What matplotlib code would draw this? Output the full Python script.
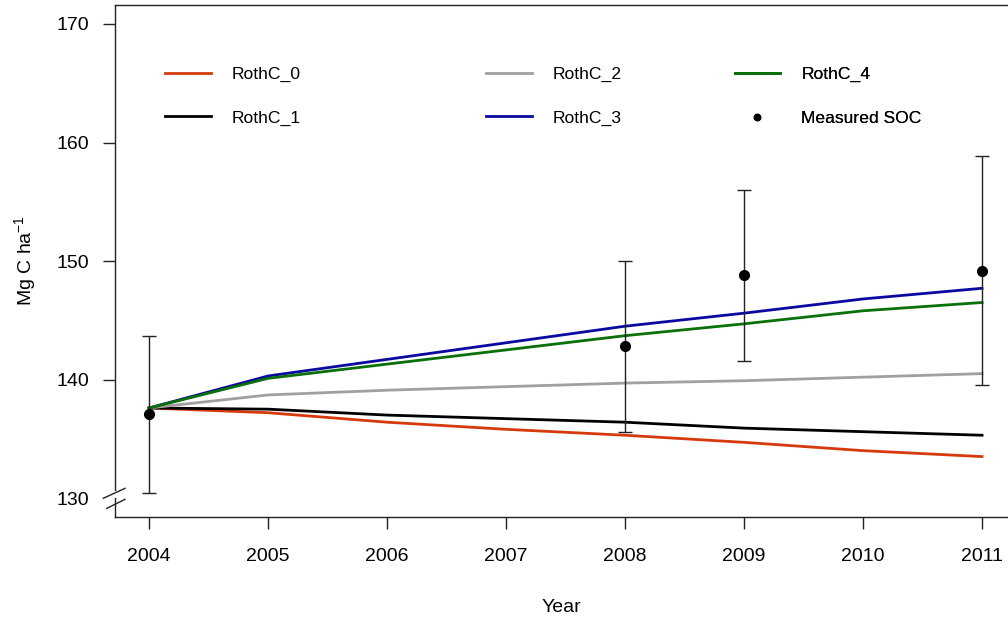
import numpy as np
import matplotlib
matplotlib.use('Agg')
from matplotlib import pyplot as plt
from matplotlib.lines import Line2D
from matplotlib.transforms import blended_transform_factory

plt.rcParams['font.family'] = ['Liberation Sans', 'DejaVu Sans']
plt.rcParams['mathtext.fontset'] = 'custom'
plt.rcParams['mathtext.rm'] = 'Liberation Sans'
plt.rcParams['mathtext.it'] = 'Liberation Sans:italic'

# Simulated SOC stocks (Mg C / ha), one value per year
years = [2004, 2005, 2006, 2007, 2008, 2009, 2010, 2011]
rothc_0 = [137.6, 137.2, 136.4, 135.8, 135.3, 134.7, 134.0, 133.5]
rothc_1 = [137.6, 137.5, 137.0, 136.7, 136.4, 135.9, 135.6, 135.3]
rothc_2 = [137.6, 138.7, 139.1, 139.4, 139.7, 139.9, 140.2, 140.5]
rothc_3 = [137.6, 140.3, 141.7, 143.1, 144.5, 145.6, 146.8, 147.7]
rothc_4 = [137.6, 140.1, 141.3, 142.5, 143.7, 144.7, 145.8, 146.5]

# Measured SOC with upper / lower error limits
meas_years = [2004, 2008, 2009, 2011]
meas_soc = [137.1, 142.8, 148.8, 149.2]
meas_hi = [143.7, 150.0, 156.0, 158.9]
meas_lo = [130.4, 135.6, 141.6, 139.5]

series = [
    ('RothC_0', rothc_0, '#D63A0A'),
    ('RothC_1', rothc_1, '#000000'),
    ('RothC_2', rothc_2, '#A0A0A0'),
    ('RothC_3', rothc_3, '#0A0AA0'),
    ('RothC_4', rothc_4, '#0A700A'),
]

yticks = [130, 140, 150, 160, 170]

fig = plt.figure(figsize=(10.08, 6.2), dpi=100)
ax = fig.add_axes([0.1141, 0.1661, 0.8859, 0.8258])

handles = []
for name, vals, col in series:
    (ln,) = ax.plot(years, vals, color=col, linewidth=2.0, label=name)
    handles.append(ln)

err_lo = np.array(meas_soc) - np.array(meas_lo)
err_hi = np.array(meas_hi) - np.array(meas_soc)
ax.errorbar(meas_years, meas_soc, yerr=[err_lo, err_hi], fmt='o', color='black',
            ecolor='#222222', elinewidth=1.0, capsize=4.8, capthick=1.0,
            markersize=7, zorder=5)
soc_handle = Line2D([], [], marker='o', linestyle='none', color='black',
                    markersize=4.5, label='Measured SOC')

ax.set_xlim(2003.714, 2011.218)
ax.set_ylim(128.40, 171.60)
ax.set_xticks(years)
ax.set_yticks(yticks)
ax.tick_params(axis='both', labelsize=14, length=8.6, width=1.0,
               direction='out', color='#222222')
ax.tick_params(axis='y', pad=10)
ax.tick_params(axis='x', pad=14)
ax.spines['right'].set_visible(False)
for s in ['left', 'top', 'bottom']:
    ax.spines[s].set_linewidth(1.0)
    ax.spines[s].set_color('#222222')

# Broken y axis just above the lowest tick
ax.spines['left'].set_bounds(130.68, 171.60)
ax.yaxis.get_major_ticks()[0].tick1line.set_visible(False)
tr = blended_transform_factory(ax.transAxes, ax.transData)
ax.plot([0, 0], [128.40, 130.0], transform=tr, color='#222222', lw=1.0, clip_on=False)
ax.plot([-0.0131, 0.0112], [129.98, 130.82], transform=tr, color='#222222', lw=1.0, clip_on=False)
ax.plot([-0.0093, 0.0112], [129.13, 129.89], transform=tr, color='#222222', lw=1.0, clip_on=False)

ax.set_xlabel('Year', fontsize=14, labelpad=24)
ax.set_ylabel('Mg C ha$^{-1}$', fontsize=14, labelpad=13)

# Legend laid out in three columns
cols = [(handles[0:2], 0.056), (handles[2:4], 0.4155), ([handles[4], soc_handle], 0.694)]
for hs, xpos in cols:
    leg = ax.legend(handles=hs, loc='center left', bbox_to_anchor=(xpos, 0.822),
                    frameon=False, fontsize=12.6, handlelength=2.6,
                    handletextpad=1.2, labelspacing=1.62, borderpad=0,
                    borderaxespad=0, numpoints=1)
    ax.add_artist(leg)

fig.savefig('out.png', dpi=100)
